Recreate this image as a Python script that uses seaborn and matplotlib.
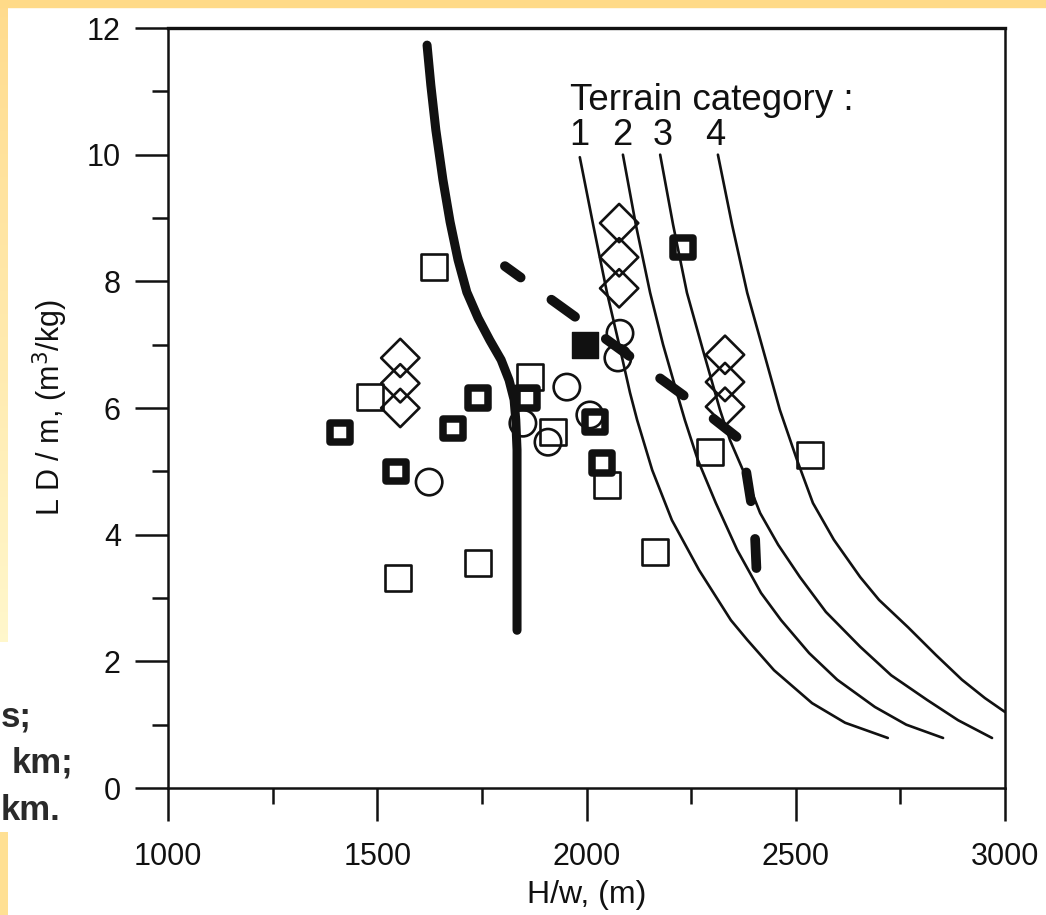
import numpy as np
import pandas as pd
import matplotlib
matplotlib.use("Agg")
import matplotlib.pyplot as plt
import seaborn as sns
from matplotlib.ticker import MultipleLocator

# ---------------- data ----------------
open_sq_x = [1636, 1483, 1550, 1741, 1865, 1920, 2049, 2164, 2295, 2534]
open_sq_y = [8.23, 6.17, 3.32, 3.55, 6.49, 5.62, 4.78, 3.73, 5.30, 5.26]

bold_sq_x = [1411, 1545, 1681, 1741, 1858, 2020, 2037, 2231]
bold_sq_y = [5.61, 5.00, 5.68, 6.16, 6.16, 5.78, 5.13, 8.53]

filled_sq_x = [1997]
filled_sq_y = [6.99]

circle_x = [1624, 1848, 1908, 1953, 2008, 2080, 2075]
circle_y = [4.83, 5.76, 5.46, 6.33, 5.89, 7.18, 6.79]

diamond_x = [1555, 1555, 1555, 2078, 2078, 2078, 2331, 2331, 2331]
diamond_y = [6.79, 6.39, 6.00, 8.92, 8.38, 7.89, 6.84, 6.41, 6.02]

thick_x = [1619, 1628, 1640, 1657, 1674, 1693, 1714, 1741, 1769, 1796, 1815,
           1827, 1831, 1834, 1834, 1834]
thick_y = [11.73, 11.10, 10.39, 9.60, 8.94, 8.34, 7.83, 7.42, 7.07, 6.76, 6.44,
           6.13, 5.81, 5.34, 4.55, 2.49]

dash_x = [1805, 1977, 2109, 2240, 2367, 2381, 2395, 2403, 2407]
dash_y = [8.24, 7.42, 6.79, 6.16, 5.50, 5.02, 4.44, 3.92, 3.32]

t1_x = [1984, 2016, 2049, 2078, 2104, 2121, 2157, 2204, 2269, 2345, 2384, 2448,
        2539, 2618, 2720]
t1_y = [9.96, 8.89, 7.82, 7.00, 6.24, 5.81, 5.02, 4.23, 3.44, 2.65, 2.34, 1.86,
        1.34, 1.03, 0.79]
t2_x = [2087, 2118, 2152, 2183, 2216, 2235, 2266, 2309, 2360, 2417, 2465, 2532,
        2599, 2689, 2764, 2852]
t2_y = [10.00, 8.89, 7.82, 7.00, 6.24, 5.81, 5.18, 4.50, 3.76, 3.08, 2.65, 2.13,
        1.71, 1.28, 1.00, 0.79]
t3_x = [2176, 2207, 2240, 2278, 2319, 2343, 2379, 2415, 2458, 2510, 2572, 2654,
        2728, 2814, 2888, 2969]
t3_y = [10.00, 8.89, 7.82, 6.92, 5.97, 5.49, 4.94, 4.34, 3.84, 3.33, 2.78, 2.23,
        1.78, 1.39, 1.07, 0.79]
t4_x = [2314, 2348, 2384, 2422, 2462, 2503, 2541, 2591, 2654, 2699, 2768, 2835,
        2897, 2952, 3000]
t4_y = [10.00, 8.89, 7.82, 6.92, 5.97, 5.18, 4.50, 3.92, 3.33, 2.97, 2.54, 2.10,
        1.71, 1.42, 1.20]

terrain_labels = ["1", "2", "3", "4"]
terrain_label_x = [1984, 2085, 2183, 2307]
terrain_label_y = 10.3

x_ticks = [1000, 1500, 2000, 2500, 3000]
y_ticks = [0, 2, 4, 6, 8, 10, 12]

# ---------------- style ----------------
sns.set_style("white")
plt.rcParams["font.family"] = ["Liberation Sans", "DejaVu Sans"]
INK = "#111111"

W, H = 1046, 915
fig = plt.figure(figsize=(W / 100, H / 100), dpi=100)
fig.patch.set_facecolor("white")

# scanned page border strips
strip_ax = fig.add_axes([0, 0, 8 / W, 1])
strip_ax.set_axis_off()
col = np.ones((H, 1, 3))
orange = np.array([1.0, 0.86, 0.55])
cream = np.array([1.0, 0.97, 0.80])
for r in range(H):
    if r < 642:
        t = r / 642
        col[r, 0] = orange * (1 - t) + cream * t
    elif r < 832:
        col[r, 0] = [1, 1, 1]
    else:
        col[r, 0] = [1.0, 0.88, 0.58]
strip_ax.imshow(col, aspect="auto", extent=[0, 1, 0, 1], origin="upper")
fig.add_artist(plt.Rectangle((0, 1 - 7 / H), 1, 7 / H, transform=fig.transFigure,
                             color="#FFDA88", zorder=5))

# caption fragments at left edge of the scanned page
for txt, px, py in [("s;", 1, 727), ("km;", 12, 773), ("km.", 1, 820)]:
    fig.text(px / W, 1 - py / H, txt, fontsize=25, fontweight="bold",
             color="#2a2a2a", ha="left", va="baseline")

ax = fig.add_axes([168 / W, 1 - 788 / H, (1005 - 168) / W, (788 - 28) / H])
ax.set_facecolor("white")

# terrain curves
for tx, ty in [(t1_x, t1_y), (t2_x, t2_y), (t3_x, t3_y), (t4_x, t4_y)]:
    sns.lineplot(x=tx, y=ty, ax=ax, sort=False, estimator=None, color=INK,
                 linewidth=1.9, zorder=2)

# thick solid curve
sns.lineplot(x=thick_x, y=thick_y, ax=ax, sort=False, estimator=None, color=INK,
             linewidth=6.5, solid_capstyle="round", solid_joinstyle="round", zorder=3)
# thick dashed curve
sns.lineplot(x=dash_x, y=dash_y, ax=ax, sort=False, estimator=None, color=INK,
             linewidth=7, linestyle=(1.0, (3.0, 3.9)), dash_capstyle="round",
             dash_joinstyle="round", zorder=3)

# markers
sns.scatterplot(x=open_sq_x, y=open_sq_y, ax=ax, marker="s", s=18.5 ** 2,
                facecolor="none", edgecolor=INK, linewidth=1.9, zorder=4)
sns.scatterplot(x=bold_sq_x, y=bold_sq_y, ax=ax, marker="s", s=14 ** 2,
                facecolor="none", edgecolor=INK, linewidth=5.4, zorder=4)
sns.scatterplot(x=filled_sq_x, y=filled_sq_y, ax=ax, marker="s", s=18.5 ** 2,
                facecolor=INK, edgecolor=INK, linewidth=1, zorder=4)
sns.scatterplot(x=circle_x, y=circle_y, ax=ax, marker="o", s=19 ** 2,
                facecolor="none", edgecolor=INK, linewidth=1.9, zorder=4)
sns.scatterplot(x=diamond_x, y=diamond_y, ax=ax, marker="D", s=19.5 ** 2,
                facecolor="none", edgecolor=INK, linewidth=1.9, zorder=4)

# annotations
ax.text(1961, 10.7, "Terrain category :", fontsize=26.5, color=INK,
        ha="left", va="baseline")
for lab, lx in zip(terrain_labels, terrain_label_x):
    ax.text(lx, terrain_label_y, lab, fontsize=26, color=INK, ha="center", va="center")

# axes
ax.set_xlim(1000, 3000)
ax.set_ylim(0, 12)
ax.set_xticks(x_ticks)
ax.set_yticks(y_ticks)
ax.xaxis.set_minor_locator(MultipleLocator(250))
ax.yaxis.set_minor_locator(MultipleLocator(1))
ax.tick_params(axis="both", which="major", direction="out", length=24, width=1.8,
               color=INK, labelsize=22, labelcolor=INK)
ax.tick_params(axis="both", which="minor", direction="out", length=11.5, width=1.8,
               color=INK)
ax.tick_params(axis="y", which="both", left=True, right=False, pad=10)
ax.tick_params(axis="x", which="both", bottom=True, top=False, pad=15)
for side, sp in ax.spines.items():
    sp.set_visible(True)
    sp.set_color(INK)
    sp.set_linewidth(1.8)
ax.spines["top"].set_linewidth(2.4)

ax.set_xlabel("H/w, (m)", fontsize=23, color=INK, labelpad=6)
ax.set_ylabel("L D / m, (m$^3$/kg)", fontsize=22, color=INK, labelpad=12)

fig.savefig("out.png", dpi=100, facecolor="white")
